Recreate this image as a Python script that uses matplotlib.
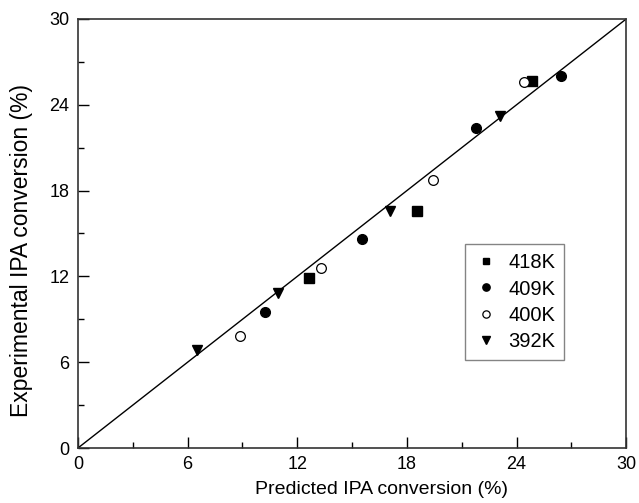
#!/usr/bin/env python3

import matplotlib
matplotlib.use('Agg')
import matplotlib.pyplot as plt

# Predicted vs experimental IPA conversion (%) per temperature
pred_418 = [12.66, 18.54, 24.87]
exp_418 = [11.86, 16.60, 25.69]

pred_409 = [10.25, 15.56, 21.79, 26.44]
exp_409 = [9.54, 14.62, 22.40, 26.01]

pred_400 = [8.85, 13.31, 19.45, 24.38]
exp_400 = [7.86, 12.58, 18.74, 25.57]

pred_392 = [6.54, 10.94, 17.08, 23.10]
exp_392 = [6.85, 10.83, 16.57, 23.22]

diag = [0, 30]

plt.rcParams['font.family'] = ['Liberation Sans', 'DejaVu Sans']
plt.rcParams['font.size'] = 13

fig = plt.figure(figsize=(6.39, 5.03), dpi=100)
ax = fig.add_axes([0.122, 0.1093, 0.858, 0.853])

ax.plot(diag, diag, color='black', linewidth=1.0)

ax.plot(pred_418, exp_418, linestyle='none', marker='s', markersize=6.5,
        color='black', label='418K')
ax.plot(pred_409, exp_409, linestyle='none', marker='o', markersize=7,
        color='black', label='409K')
ax.plot(pred_400, exp_400, linestyle='none', marker='o', markersize=7,
        markerfacecolor='white', markeredgecolor='black', markeredgewidth=0.9,
        label='400K')
ax.plot(pred_392, exp_392, linestyle='none', marker='v', markersize=7.5,
        color='black', label='392K')

ax.set_xlim(0, 30)
ax.set_ylim(0, 30)
ax.set_xticks([0, 6, 12, 18, 24, 30])
ax.set_yticks([0, 6, 12, 18, 24, 30])
ax.set_xticks([3, 9, 15, 21, 27], minor=True)
ax.set_yticks([3, 9, 15, 21, 27], minor=True)
ax.tick_params(which='major', direction='in', length=8, width=1.0,
               pad=6, labelsize=13)
ax.tick_params(which='minor', direction='in', length=4, width=1.0)

for spine in ax.spines.values():
    spine.set_linewidth(1.2)
    spine.set_color('#333333')

ax.set_xlabel('Predicted IPA conversion (%)', fontsize=14)
ax.set_ylabel('Experimental IPA conversion (%)', fontsize=16.5)
ax.xaxis.set_label_coords(0.553, -0.076)
ax.yaxis.set_label_coords(-0.082, 0.46)

leg = ax.legend(loc='lower left', bbox_to_anchor=(0.706, 0.205),
                borderaxespad=0, fancybox=False, markerscale=0.75,
                handlelength=1.2, handletextpad=0.5, labelspacing=0.36,
                borderpad=0.45, fontsize=14.5)
leg.get_frame().set_edgecolor('#666666')
leg.get_frame().set_linewidth(1.0)

fig.savefig('out.png', dpi=100)
